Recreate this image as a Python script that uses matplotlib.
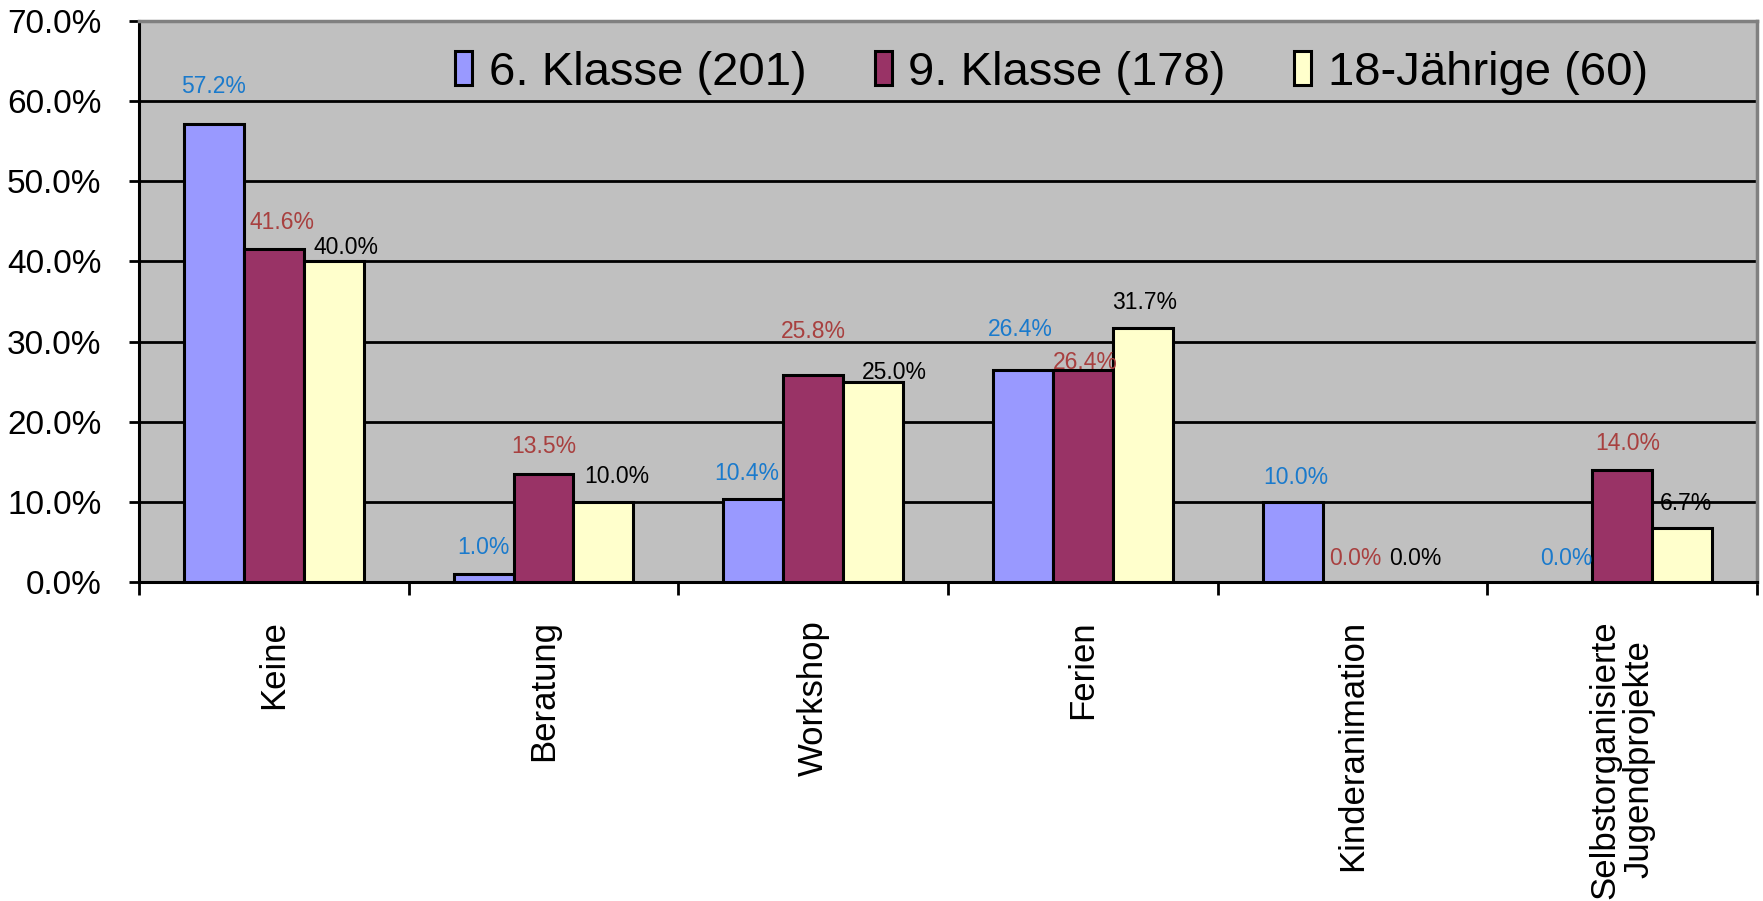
import matplotlib
matplotlib.use("Agg")
import matplotlib.pyplot as plt
import numpy as np
from matplotlib.ticker import FuncFormatter, FixedLocator

plt.rcParams['font.family'] = ['Liberation Sans', 'DejaVu Sans']

categories = ["Keine", "Beratung", "Workshop", "Ferien", "Kinderanimation",
              "Selbstorganisierte\nJugendprojekte"]
series_names = ["6. Klasse (201)", "9. Klasse (178)", "18-Jährige (60)"]
klasse6 = [57.2, 1.0, 10.4, 26.4, 10.0, 0.0]
klasse9 = [41.6, 13.5, 25.8, 26.4, 0.0, 14.0]
jaehrige18 = [40.0, 10.0, 25.0, 31.7, 0.0, 6.7]
y_ticks = [0, 10, 20, 30, 40, 50, 60, 70]

# styles
bar_colors = ["#9999FF", "#993366", "#FFFFCC"]
label_colors = ["#1a7acc", "#a8403f", "#000000"]
# label offsets in pixels (dx, dy of label centre above bar top)
label_offsets = [
    [(0, 39), (0, 28), (-6, 27), (-3, 43), (3, 26), (4, 25)],
    [(8, 28), (0, 29), (0, 45), (2, 10), (3, 25), (6, 28)],
    [(12, 16), (13, 27), (21, 11), (2, 27), (3, 25), (4, 27)],
]

fig = plt.figure(figsize=(17.63, 9.01), dpi=100)
ax = fig.add_axes([139/1763, 1-582/901, (1757-139)/1763, (582-21)/901])
ax.set_facecolor("#C0C0C0")

x = np.arange(len(categories))
w = 0.2222
data = [klasse6, klasse9, jaehrige18]
label_fs = 16.5
cap_px = 0.716 * label_fs * 100 / 72 / 2
for i, (vals, name) in enumerate(zip(data, series_names)):
    xs = x + (i - 1) * w
    ax.bar(xs, vals, width=w, color=bar_colors[i], edgecolor="black",
           linewidth=2.2, label=name, zorder=3)
    for j, (xx, v) in enumerate(zip(xs, vals)):
        dx, dy = label_offsets[i][j]
        ax.annotate(f"{v:.1f}%", xy=(xx, v), xytext=(dx, dy - cap_px),
                    textcoords="offset pixels", ha="center", va="baseline",
                    fontsize=label_fs, color=label_colors[i], zorder=5)

ax.set_xlim(-0.5, len(categories) - 0.5)
ax.set_ylim(0, 70)
ax.yaxis.set_major_locator(FixedLocator(y_ticks))
ax.yaxis.set_major_formatter(FuncFormatter(lambda v, p: f"{v:.1f}%"))
ax.grid(axis="y", color="black", linewidth=2.0, zorder=1)
ax.tick_params(axis="y", labelsize=24, length=7, width=2, pad=20, direction="out")

ax.set_xticks(np.arange(-0.5, len(categories), 1.0))
ax.set_xticklabels([])
ax.tick_params(axis="x", length=9, width=2, direction="out")
for xi, cat in zip(x, categories):
    ax.text(xi, -0.068, cat, transform=ax.get_xaxis_transform(), rotation=90,
            ha="center", va="top", fontsize=25, multialignment="center",
            linespacing=1.05)

for s in ["left", "bottom"]:
    ax.spines[s].set_color("black")
    ax.spines[s].set_linewidth(2.2)
for s in ["top", "right"]:
    ax.spines[s].set_color("#808080")
    ax.spines[s].set_linewidth(2.5)

leg = ax.legend(loc="center", bbox_to_anchor=(0.564, 0.908), ncol=3,
                frameon=False, fontsize=34, handlelength=0.36, handleheight=0.72,
                handletextpad=0.35, columnspacing=1.45, borderaxespad=0)

fig.savefig("out.png", dpi=100)
